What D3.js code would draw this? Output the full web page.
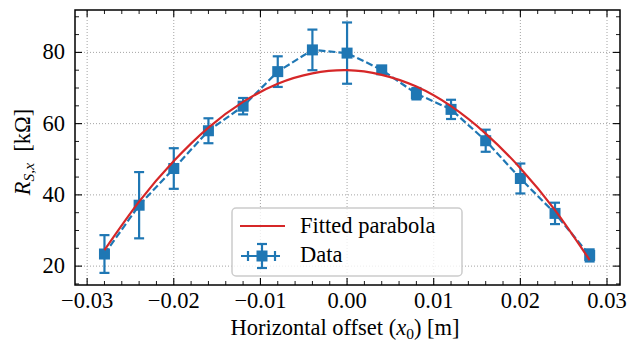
<!DOCTYPE html>
<html>
<head>
<meta charset="utf-8">
<script src="https://cdn.jsdelivr.net/npm/d3@7"></script>
<style>
  html, body { margin: 0; padding: 0; background: #fff; }
  svg { display: block; }
</style>
</head>
<body>
<div id="chart"></div>
<script>
// measured offsets (m) and resistance (kOhm)
const offsets = [-0.028, -0.024, -0.020, -0.016, -0.012, -0.008, -0.004, 0.000,
                 0.004, 0.008, 0.012, 0.016, 0.020, 0.024, 0.028];
const resistance = [23.4, 37.1, 47.4, 58.0, 64.9, 74.6, 80.7, 79.8,
                    75.1, 68.4, 64.0, 55.2, 44.6, 34.8, 23.0];
const resistanceErr = [5.3, 9.3, 5.7, 3.5, 2.3, 4.3, 5.7, 8.6,
                       1.0, 1.6, 2.7, 3.1, 4.2, 3.0, 1.7];
const offsetErr = 0.0004;

// fitted parabola
const fitOffsets = offsets;
const fitResistance = [24.5, 38.1, 49.5, 58.9, 66.1, 71.2, 74.1, 75.0,
                       73.7, 70.4, 64.9, 57.2, 47.5, 35.7, 21.7];

const xTicks = [-0.03, -0.02, -0.01, 0.00, 0.01, 0.02, 0.03];
const yTicks = [20, 40, 60, 80];

const width = 627, height = 345;
const margin = { top: 10, right: 7, bottom: 60, left: 75 };
const blue = "#1f77b4", red = "#d62728";
const font = "Liberation Serif";
const fs = 22.5, subFs = 15.5;

const svg = d3.select("#chart").append("svg")
    .attr("width", width)
    .attr("height", height);

const x = d3.scaleLinear()
    .domain([-0.0314, 0.0315])
    .range([margin.left, width - margin.right]);
const y = d3.scaleLinear()
    .domain([14.7, 91.9])
    .range([height - margin.bottom, margin.top]);

const x0 = margin.left, x1 = width - margin.right;
const y0 = height - margin.bottom, y1 = margin.top;

// helper so every text node carries its own font
const label = (sel) => sel.attr("font-family", font).attr("font-size", fs);

// grid
const grid = svg.append("g")
    .attr("stroke", "#9a9a9a")
    .attr("stroke-width", 0.9)
    .attr("stroke-dasharray", "1,2");
grid.selectAll(".gx").data(xTicks).join("line")
    .attr("x1", d => x(d)).attr("x2", d => x(d))
    .attr("y1", y0).attr("y2", y1);
grid.selectAll(".gy").data(yTicks).join("line")
    .attr("y1", d => y(d)).attr("y2", d => y(d))
    .attr("x1", x0).attr("x2", x1);

// data: error bars, dashed line, markers
const data = offsets.map((o, i) => ({ x: o, y: resistance[i], e: resistanceErr[i] }));
const dataG = svg.append("g");
const capW = 5;

const eb = dataG.selectAll(".eb").data(data).join("g")
    .attr("stroke", blue).attr("stroke-width", 2.2);
eb.append("line")
    .attr("x1", d => x(d.x)).attr("x2", d => x(d.x))
    .attr("y1", d => y(d.y - d.e)).attr("y2", d => y(d.y + d.e));
eb.append("line")
    .attr("x1", d => x(d.x) - capW).attr("x2", d => x(d.x) + capW)
    .attr("y1", d => y(d.y + d.e)).attr("y2", d => y(d.y + d.e));
eb.append("line")
    .attr("x1", d => x(d.x) - capW).attr("x2", d => x(d.x) + capW)
    .attr("y1", d => y(d.y - d.e)).attr("y2", d => y(d.y - d.e));
eb.append("line")
    .attr("x1", d => x(d.x - offsetErr)).attr("x2", d => x(d.x + offsetErr))
    .attr("y1", d => y(d.y)).attr("y2", d => y(d.y));

dataG.append("path")
    .datum(data)
    .attr("fill", "none")
    .attr("stroke", blue)
    .attr("stroke-width", 2.2)
    .attr("stroke-dasharray", "7,3")
    .attr("d", d3.line().x(d => x(d.x)).y(d => y(d.y)));

const ms = 11;
dataG.selectAll(".mk").data(data).join("rect")
    .attr("x", d => x(d.x) - ms / 2)
    .attr("y", d => y(d.y) - ms / 2)
    .attr("width", ms).attr("height", ms)
    .attr("fill", blue);

// fitted parabola
svg.append("path")
    .datum(fitOffsets.map((o, i) => [o, fitResistance[i]]))
    .attr("fill", "none")
    .attr("stroke", red)
    .attr("stroke-width", 2.2)
    .attr("d", d3.line().x(d => x(d[0])).y(d => y(d[1])).curve(d3.curveNatural));

// axes: ticks inside on all four sides
const fmtX = d => d3.format(".2f")(d).replace("-", "\u2212");
const axes = svg.append("g").attr("stroke", "#000");
const xMinor = d3.range(-0.030, 0.0301, 0.002).filter(v => Math.abs(Math.round(v * 100) - v * 100) > 1e-6);
const yMinor = d3.range(15, 91, 5).filter(v => v % 20 !== 0);

function ticksX(vals, len, w) {
  [y0, y1].forEach((yy, k) => {
    axes.selectAll(null).data(vals).join("line")
      .attr("x1", d => x(d)).attr("x2", d => x(d))
      .attr("y1", yy).attr("y2", k === 0 ? yy - len : yy + len)
      .attr("stroke-width", w);
  });
}
function ticksY(vals, len, w) {
  [x0, x1].forEach((xx, k) => {
    axes.selectAll(null).data(vals).join("line")
      .attr("y1", d => y(d)).attr("y2", d => y(d))
      .attr("x1", xx).attr("x2", k === 0 ? xx + len : xx - len)
      .attr("stroke-width", w);
  });
}
ticksX(xTicks, 7, 1.1);
ticksX(xMinor, 4, 0.9);
ticksY(yTicks, 7, 1.1);
ticksY(yMinor, 4, 0.9);

axes.append("rect")
    .attr("x", x0).attr("y", y1)
    .attr("width", x1 - x0).attr("height", y0 - y1)
    .attr("fill", "none").attr("stroke-width", 1.5);

svg.append("g").selectAll("text").data(xTicks).join("text")
    .call(label)
    .attr("x", d => x(d)).attr("y", y0 + 23)
    .attr("text-anchor", "middle")
    .text(fmtX);
svg.append("g").selectAll("text").data(yTicks).join("text")
    .call(label)
    .attr("x", x0 - 10).attr("y", d => y(d) + 7)
    .attr("text-anchor", "end")
    .text(d => d);

// axis labels
const xl = svg.append("text").call(label)
    .attr("x", 345).attr("y", 335)
    .attr("text-anchor", "middle");
xl.append("tspan").text("Horizontal offset (");
xl.append("tspan").attr("font-style", "italic").text("x");
xl.append("tspan").attr("font-size", subFs).attr("dy", 4).text("0");
xl.append("tspan").attr("dy", -4).text(") [m]");

const yl = svg.append("text").call(label)
    .attr("transform", "translate(30,152) rotate(-90)")
    .attr("text-anchor", "middle");
yl.append("tspan").attr("font-style", "italic").text("R");
yl.append("tspan").attr("font-size", subFs).attr("dy", 4)
    .attr("font-style", "italic").text("S,x");
yl.append("tspan").attr("dy", -4).text("\u2002[k\u03a9]");

// legend
const lg = svg.append("g").attr("transform", "translate(232,208)");
lg.append("rect")
    .attr("width", 230).attr("height", 68).attr("rx", 4)
    .attr("fill", "#fff").attr("fill-opacity", 0.8)
    .attr("stroke", "#cccccc").attr("stroke-width", 1.5);
lg.append("line")
    .attr("x1", 8).attr("x2", 53).attr("y1", 18).attr("y2", 18)
    .attr("stroke", red).attr("stroke-width", 2.2);
lg.append("text").call(label).attr("x", 68).attr("y", 25).text("Fitted parabola");
const gx = 30, gy = 48;
const glyph = lg.append("g").attr("stroke", blue).attr("stroke-width", 2.2);
glyph.append("line").attr("x1", 9).attr("x2", 48).attr("y1", gy).attr("y2", gy);
glyph.append("line").attr("x1", gx).attr("x2", gx).attr("y1", gy - 12).attr("y2", gy + 12);
glyph.append("line").attr("x1", gx - 5).attr("x2", gx + 5).attr("y1", gy - 12).attr("y2", gy - 12);
glyph.append("line").attr("x1", gx - 5).attr("x2", gx + 5).attr("y1", gy + 12).attr("y2", gy + 12);
glyph.append("line").attr("x1", 16).attr("x2", 16).attr("y1", gy - 5).attr("y2", gy + 5);
glyph.append("line").attr("x1", 43).attr("x2", 43).attr("y1", gy - 5).attr("y2", gy + 5);
lg.append("rect").attr("x", gx - 5.5).attr("y", gy - 5.5).attr("width", 11).attr("height", 11).attr("fill", blue);
lg.append("text").call(label).attr("x", 68).attr("y", 54).text("Data");
</script>
</body>
</html>
